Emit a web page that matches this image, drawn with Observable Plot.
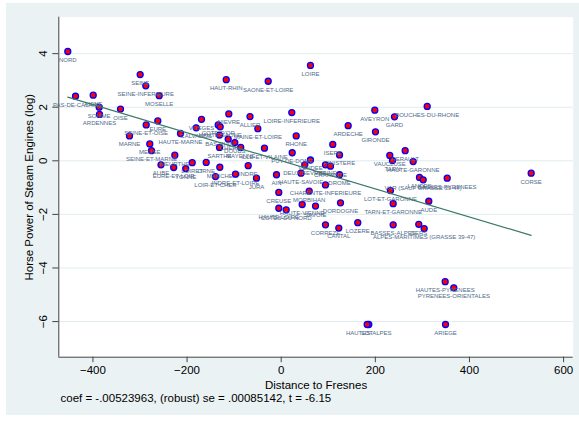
<!DOCTYPE html>
<html><head><meta charset="utf-8">
<script src="https://cdn.jsdelivr.net/npm/d3@7"></script>
<script src="https://cdn.jsdelivr.net/npm/@observablehq/plot@0.6"></script>
<style>
body{margin:0;background:#fff;}
#wrap{position:absolute;left:6px;top:3px;width:573px;height:412px;background:#EAF2F3;overflow:hidden;}
</style></head><body><div id="wrap"></div>
<script>
const names = ["NORD","PAS-DE-CALAIS","AISNE","SOMME","ARDENNES","OISE","SEINE","SEINE-INFERIEURE","MOSELLE","EURE",
"SEINE-ET-OISE","MARNE","HAUTE-MARNE","MEUSE","SEINE-ET-MARNE","MEURTHE","AUBE","EURE-ET-LOIR","YONNE","LOIRET",
"ORNE","MANCHE","LOIR-ET-CHER","INDRE-ET-LOIRE","INDRE","JURA","AIN","VOSGES","CALVADOS","NIEVRE",
"ALLIER","COTE-D'OR","HAUTE-SAONE","MAINE-ET-LOIRE","BAS-RHIN","CHER","DOUBS","MAYENNE","SARTHE","ILLE-ET-VILAINE",
"HAUT-RHIN","SAONE-ET-LOIRE","LOIRE","LOIRE-INFERIEURE","RHONE","ARDECHE","AVEYRON","GIRONDE","GARD","BOUCHES-DU-RHONE",
"ISERE","FINISTERE","PUY-DE-DOME","VENDEE","DEUX-SEVRES","VIENNE","CHARENTE","HAUTE-SAVOIE","DROME","CHARENTE-INFERIEURE",
"MORBIHAN","CREUSE","HAUTE-VIENNE","SAVOIE","DORDOGNE","HAUTE-LOIRE","COTES-DU-NORD","CORREZE","CANTAL","LOZERE",
"HERAULT","VAUCLUSE","TARN","HAUTE-GARONNE","LANDES","VAR (SAUF GRASSE 39-47)","BASSES-PYRENEES","CORSE","LOT-ET-GARONNE","TARN-ET-GARONNE",
"AUDE","BASSES-ALPES","GERS","ALPES-MARITIMES (GRASSE 39-47)","HAUTES-ALPES","LOT","HAUTES-PYRENEES","PYRENEES-ORIENTALES","ARIEGE"];
const distance = [-453.4,-437.0,-399.4,-386.7,-386.0,-341.4,-299.6,-287.7,-259.2,-262.2,
-286.8,-322.3,-213.9,-279.2,-275.6,-226.0,-255.4,-228.4,-202.9,-189.1,
-159.3,-130.4,-139.6,-97.1,-70.1,-52.5,-10.0,-169.3,-180.6,-111.3,
-66.3,-133.8,-129.6,-49.7,-131.1,-112.6,-98.6,-86.0,-131.1,-35.5,
-116.8,-27.6,62.2,22.5,31.9,142.3,198.9,200.3,240.7,310.2,
109.6,123.9,23.4,62.2,50.1,94.1,104.7,42.1,123.9,94.1,
59.5,-5.1,44.6,72.9,126.0,-5.1,10.6,94.1,122.4,162.7,
263.4,230.7,236.5,280.4,293.8,301.7,352.7,531.1,232.2,237.9,
313.6,237.9,292.3,303.8,186.1,182.7,348.4,366.7,349.1];
const horsepower = [4.08,2.41,2.45,2.00,1.73,1.93,3.22,2.80,2.43,1.49,
1.34,0.93,1.02,0.63,0.38,0.21,-0.15,-0.25,-0.29,-0.07,
-0.06,-0.24,-0.59,-0.50,-0.18,-0.65,-0.52,1.55,1.23,1.75,
1.65,1.34,1.27,1.20,0.96,0.81,0.68,0.50,0.50,0.47,
3.03,2.97,3.56,1.80,0.93,1.31,1.89,1.08,1.64,2.03,
0.61,0.22,0.30,0.03,-0.15,-0.15,-0.20,-0.46,-0.52,-0.90,
-1.13,-1.18,-1.63,-1.69,-1.57,-1.77,-1.83,-2.39,-2.51,-2.31,
0.38,0.20,0.01,-0.03,-0.62,-0.71,-0.65,-0.46,-1.11,-1.60,
-1.51,-2.39,-2.37,-2.53,-6.11,-6.11,-4.51,-4.74,-6.11];
const xTicks = [-400,-200,0,200,400,600];
const yTicks = [-6,-4,-2,0,2,4];
const fitCoef = -0.00523963;
const captionText = "coef = -.00523963, (robust) se = .00085142, t = -6.15";
const xLabel = "Distance to Fresnes";
const yLabel = "Horse Power of Steam Engines (log)";

const data = names.map((n,i)=>({name:n, x:distance[i], y:horsepower[i]}));
const xmin = d3.min(distance), xmax = d3.max(distance);
const fit = [xmin, xmax].map(x=>({x, y: fitCoef*x}));
const xDomain = [-472.5, 620.4];
const yDomain = [-7.33, 5.36];

const chart = Plot.plot({
  width: 573, height: 412,
  marginLeft: 52.3, marginRight: 6.3, marginTop: 13.7, marginBottom: 58.3,
  style: {background: "transparent", fontFamily: "'Liberation Sans', Arial, sans-serif", overflow: "visible"},
  x: {domain: xDomain},
  y: {domain: yDomain},
  marks: [
    Plot.frame({fill: "white", stroke: null}),
    Plot.gridY(yTicks, {stroke: "#e2ecef", strokeOpacity: 1, strokeWidth: 1}),
    Plot.ruleX([xDomain[0]], {stroke: "#444", strokeWidth: 1}),
    Plot.ruleY([yDomain[0]], {stroke: "#444", strokeWidth: 1}),
    Plot.axisX(xTicks, {tickSize: 5.5, tickPadding: 3.5, fontSize: 11.5, stroke: "#444", fill: "#000",
      label: xLabel, labelAnchor: "center", labelOffset: 32, labelArrow: "none"}),
    Plot.axisY(yTicks, {tickSize: 6, tickPadding: 6, tickRotate: -90, fontSize: 11.5, stroke: "#444", fill: "#000",
      label: yLabel, labelAnchor: "center", labelOffset: 34, labelArrow: "none"}),
    Plot.dot(data, {x: "x", y: "y", r: 3, fill: "#ff0000", stroke: "#0000ff", strokeWidth: 1.3}),
    Plot.text(data, {x: "x", y: "y", text: "name", dy: 8.5, fontSize: 6, fill: "#4f6a8a"}),
    Plot.line(fit, {x: "x", y: "y", stroke: "#3a7a68", strokeWidth: 1.2}),
    Plot.text([captionText], {frameAnchor: "bottom-left", textAnchor: "start", dx: 1.7, dy: 44.3, fontSize: 11.5, fill: "#000"})
  ]
});
document.getElementById("wrap").appendChild(chart);
</script></body></html>
